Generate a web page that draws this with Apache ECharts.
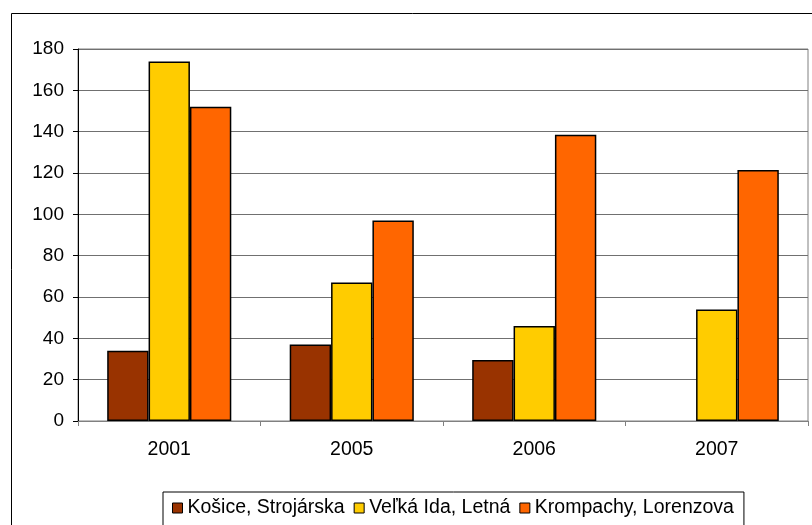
<!DOCTYPE html>
<html>
<head>
    <meta charset="utf-8">
    <script src="https://cdnjs.cloudflare.com/ajax/libs/echarts/6.0.0/echarts.min.js"></script>
</head>
<body>
    <div id="main"></div>
    <style>
html,body { margin: 0; padding: 0; background: #fff; }
#main { width: 812px; height: 525px; }
    </style>
    <script type="text/javascript">
var years = ['2001', '2005', '2006', '2007'];
var kosice = [34, 37, 29.5, null];
var velkaIda = [174, 67, 46, 54];
var krompachy = [152, 97, 138.5, 121.5];

var font = 'Liberation Sans, Arial, sans-serif';

function barSeries(name, data, color) {
    return {
        name: name,
        type: 'bar',
        data: data,
        barGap: '0%',
        barCategoryGap: '32%',
        itemStyle: {
            color: color,
            borderColor: '#000',
            borderWidth: 1.5
        }
    };
}

var option = {
    animation: false,
    backgroundColor: '#fff',
    graphic: [{
        type: 'rect',
        shape: { x: 11.5, y: 13.5, width: 820, height: 540 },
        style: { fill: 'none', stroke: '#000', lineWidth: 1 },
        silent: true
    }],
    grid: {
        left: 78,
        top: 49,
        right: 4,
        bottom: 104,
        show: true,
        borderColor: '#808080',
        borderWidth: 1
    },
    legend: {
        left: 163,
        top: 492,
        padding: [6, 10, 8, 9],
        borderColor: '#000',
        borderWidth: 1,
        itemWidth: 10,
        itemHeight: 10,
        itemGap: 9,
        icon: 'rect',
        itemStyle: { borderColor: '#000', borderWidth: 1 },
        textStyle: { fontFamily: font, fontSize: 19.5, color: '#000' },
        data: ['Košice, Strojárska', 'Veľká Ida, Letná', 'Krompachy, Lorenzova']
    },
    xAxis: {
        type: 'category',
        data: years,
        axisLine: { lineStyle: { color: '#808080', width: 1 } },
        axisTick: { show: true, length: 5, lineStyle: { color: '#808080' } },
        axisLabel: { fontFamily: font, fontSize: 19.5, color: '#000', margin: 19 }
    },
    yAxis: {
        type: 'value',
        min: 0,
        max: 180,
        interval: 20,
        axisLine: { show: true, lineStyle: { color: '#000', width: 1 } },
        axisTick: { show: true, length: 5, lineStyle: { color: '#000' } },
        axisLabel: { fontFamily: font, fontSize: 19, color: '#000', margin: 14 },
        splitLine: { lineStyle: { color: '#707070', width: 1 } }
    },
    series: [
        barSeries('Košice, Strojárska', kosice, '#993300'),
        barSeries('Veľká Ida, Letná', velkaIda, '#FFCC00'),
        barSeries('Krompachy, Lorenzova', krompachy, '#FF6600')
    ]
};

var chart = echarts.init(document.getElementById('main'));
chart.setOption(option);
    </script>
</body>
</html>
